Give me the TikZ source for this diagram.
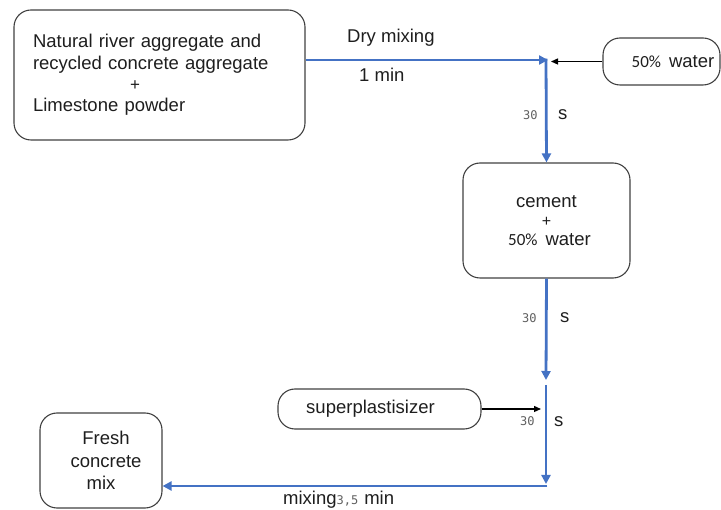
\documentclass[tikz,border=0pt]{standalone}
\usepackage{fontspec}
\setmainfont{Liberation Sans}
\newfontfamily\numfont{DejaVu Sans Mono}
\newfontfamily\pctfont{Carlito}
\usetikzlibrary{arrows.meta}
\definecolor{flowblue}{RGB}{68,114,196}
\definecolor{boxline}{RGB}{64,64,64}
\definecolor{numgray}{RGB}{95,95,95}
\definecolor{ink}{RGB}{30,30,30}
\begin{document}
\begin{tikzpicture}[x=1pt,y=-1pt,
  box/.style={draw=boxline, line width=1.1pt, rounded corners=17pt, inner sep=0pt},
  txt/.style={font=\fontsize{18.5}{21.4}\selectfont, text=ink, inner sep=0pt},
  flow/.style={draw=flowblue, line width=2.8pt, -{Triangle[length=9pt,width=9pt]}},
  feed/.style={draw=black, line width=1.3pt, -{Triangle[length=7pt,width=6pt]}},
  num/.style={font=\numfont\fontsize{12}{12}\selectfont, text=numgray, inner sep=0pt},
]
\clip (0,0) rectangle (721,510);

% boxes
\node[box, txt, minimum width=291pt, minimum height=130pt, align=left, text width=253pt] (b1) at (159.5,75)
  {Natural river aggregate and\\recycled concrete aggregate\\\hspace*{97pt}{\fontsize{17}{17}\selectfont +}\\Limestone powder};
\node[box, txt, minimum width=117pt, minimum height=47pt] (wat) at (661.5,61.5)
  {\hspace*{23pt}{\pctfont\fontsize{17}{17}\selectfont 50\%}\hspace{8pt}water};
\node[box, txt, font=\fontsize{18.5}{19}\selectfont, minimum width=167pt, minimum height=115pt, align=center] (cem) at (546.5,220.5)
  {cement\\{\fontsize{16}{16}\selectfont +}\\\hspace*{6pt}{\pctfont\fontsize{17}{17}\selectfont 50\%}\hspace{8pt}water};
\node[box, txt, minimum width=203pt, minimum height=40pt] (sp) at (379.5,409)
  {\hspace*{-18pt}superplastisizer};
\node[box, txt, font=\fontsize{18.5}{22.5}\selectfont, minimum width=122pt, minimum height=95pt, align=center] (fresh) at (101,460.5)
  {\hspace*{10pt}Fresh\\\hspace*{10pt}concrete\\mix};

% junction points
\coordinate (j1) at (546,60);
\coordinate (wtip) at (551,61.5);
\coordinate (j2end) at (546,380);
\coordinate (j3start) at (546,385);
\coordinate (j4) at (546,486);
\coordinate (sptip) at (541,409);

% connectors
\draw[flow] (b1.east |- j1) -- ([xshift=2pt]j1);
\draw[flow] ([yshift=1.4pt]j1) -- (cem.north);
\draw[flow] (cem.south) -- (j2end);
\draw[flow] (j3start) -- ([yshift=2pt]j4);
\draw[flow] ([xshift=1.4pt]j4) -- (fresh.east |- j4);
\draw[feed] (wat.west) -- (wtip);
\draw[feed] (sp.east) -- (sptip);

% labels
\node[txt, anchor=base west] (dry) at (347,43) {Dry mixing};
\node[txt, anchor=base west] (onemin) at (359,82) {1 min};
\node[num, anchor=base west] (t1) at (523,120) {30};
\node[txt, anchor=base west] (s1) at (558,120) {s};
\node[num, anchor=base west] (t2) at (522,323) {30};
\node[txt, anchor=base west] (s2) at (560,323) {s};
\node[num, anchor=base west] (t3) at (520,426) {30};
\node[txt, anchor=base west] (s3) at (554,427) {s};
\node[txt, anchor=base west] (mixlbl) at (283,505)
  {mixing{\numfont\fontsize{12}{12}\selectfont\color{numgray}3,5}\hspace{6pt}min};
\end{tikzpicture}
\end{document}
